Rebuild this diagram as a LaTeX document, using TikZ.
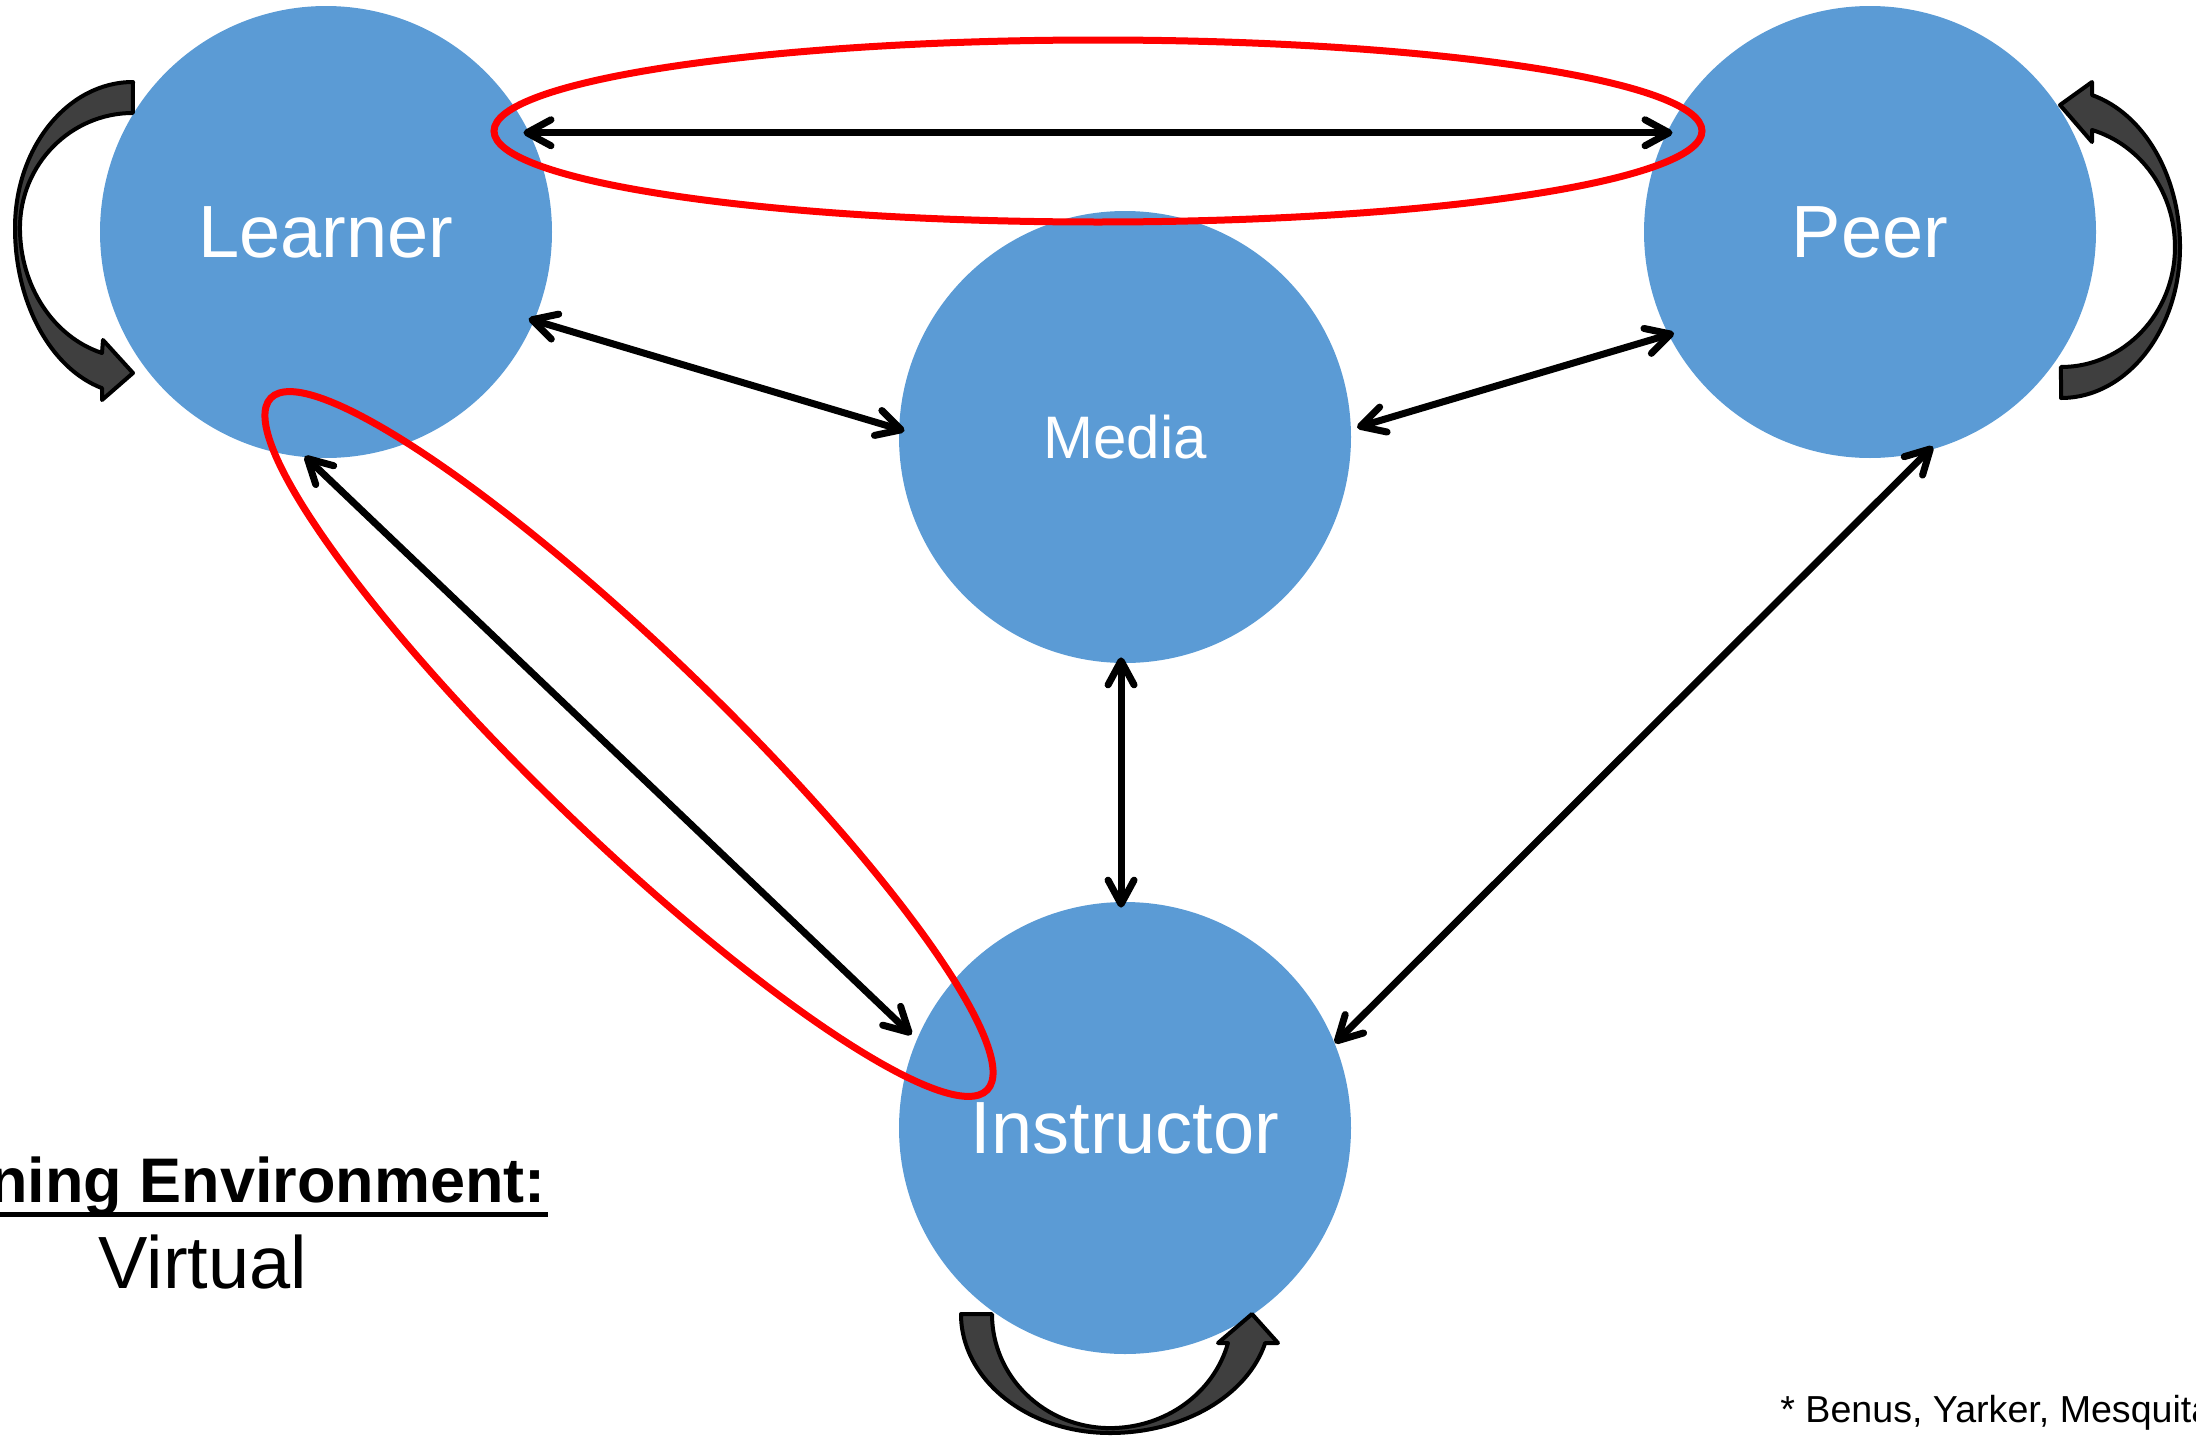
\documentclass[tikz,border=0pt]{standalone}
\usepackage{fontspec}
\setmainfont{Liberation Sans}
\usetikzlibrary{arrows.meta}
\definecolor{circleblue}{HTML}{5B9BD5}
\definecolor{loopgray}{HTML}{3F3F3F}
\tikzset{
  person/.style={circle, fill=circleblue, draw=none, minimum size=226pt, inner sep=0pt, text=white, font=\fontsize{37}{44}\selectfont},
  link/.style={line width=3.5pt, shorten <=-3pt, shorten >=-3pt, {Straight Barb[length=12pt,width=13pt,round]}-{Straight Barb[length=12pt,width=13pt,round]}},
  highlight/.style={draw=red, line width=3.5pt},
  selfloop/.style={fill=loopgray, draw=black, line width=2pt, line join=round},
}

\begin{document}
\begin{tikzpicture}[x=0.5pt,y=0.5pt,yscale=-1]
\useasboundingbox (0,0) rectangle (2196,1440);

% Circles
\node[person] (learner) at (326,232) {Learner};
\node[person] (peer) at (1870,232) {Peer};
\node[person, font=\fontsize{30}{36}\selectfont] (media) at (1125,437) {Media};
\node[person] (instructor) at (1125,1128) {Instructor};

% Red ellipses
\draw[highlight] (1098,131) ellipse [x radius=604, y radius=91];
\draw[highlight, rotate around={44:(629,744)}] (629,744) ellipse [x radius=498, y radius=93];

% Connectors
\draw[link] (learner.26) -- (peer.154);
\draw[link] (learner.-23) -- (media.178);
\draw[link, shorten >=3pt] (peer.207) -- (media.2.5);
\draw[link] (media.269) -- (instructor.91);
\draw[link, shorten <=-1pt, shorten >=3.5pt] (learner.265) -- (instructor.157);
\draw[link, shorten >=0pt] (peer.285.5) -- (instructor.22);

% Self loop: learner
\draw[selfloop] (133,82) arc[start angle=270, end angle=180, x radius=118, y radius=146]
  arc[start angle=180, end angle=105.2, x radius=118, y radius=166]
  -- (102,400) -- (133,373) -- (103,340) -- (102,353)
  arc[start angle=105.9, end angle=180, x radius=113, y radius=130]
  arc[start angle=180, end angle=270, x radius=113, y radius=115] -- cycle;
% Self loop: peer
\draw[selfloop] (2061,398) arc[start angle=90, end angle=0, x radius=119, y radius=151]
  arc[start angle=360, end angle=285.1, x radius=119, y radius=157.4]
  -- (2092,82) -- (2060,105) -- (2092,142) -- (2092,130)
  arc[start angle=285.8, end angle=360, x radius=114, y radius=121.6]
  arc[start angle=0, end angle=90, x radius=114, y radius=120] -- cycle;
% Self loop: instructor
\draw[selfloop] (961,1314) arc[start angle=180, end angle=90, x radius=149, y radius=119]
  arc[start angle=90, end angle=14.1, x radius=160, y radius=119]
  -- (1278,1343) -- (1252,1314) -- (1218,1343) -- (1228,1343)
  arc[start angle=14.7, end angle=90, x radius=122, y radius=114]
  arc[start angle=90, end angle=180, x radius=118, y radius=114] -- cycle;

% Text Node
\node[font=\bfseries\fontsize{31.5}{38}\selectfont, anchor=base east, inner sep=0pt] (envlabel) at (546,1202) {ning Environment:};
\draw[line width=2.5pt] (0,1214) -- (548,1214);
% Text Node
\node[font=\fontsize{37}{44}\selectfont, anchor=base, inner sep=0pt] (envtype) at (203,1288) {Virtual};
% Text Node
\node[font=\fontsize{18.8}{22}\selectfont, anchor=base west, inner sep=0pt] (cite) at (1780,1422) {* Benus, Yarker, Mesquita};

\end{tikzpicture}
\end{document}
